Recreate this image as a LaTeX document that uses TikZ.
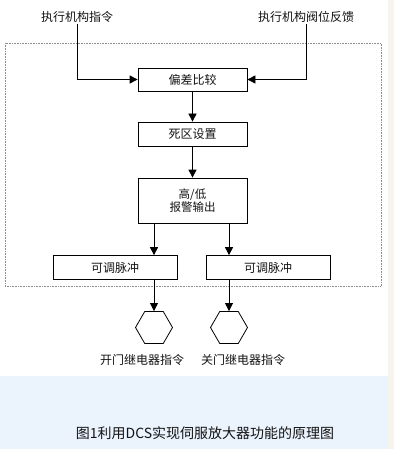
\documentclass[tikz,border=0pt]{standalone}
\usepackage{fontspec}
\setmainfont{Noto Sans CJK SC}
\usepackage{tikz}
\usetikzlibrary{arrows.meta, positioning, calc, shapes.geometric}
\usepackage{xcolor}
\definecolor{framegray}{RGB}{140,140,140}
\definecolor{capblue}{RGB}{235,243,253}
\definecolor{edgebeige}{RGB}{247,244,238}
\definecolor{inkgray}{RGB}{20,20,20}

\begin{document}
\begin{tikzpicture}[x=1pt, y=-1pt,
  box/.style={draw, line width=0.7pt, minimum width=109pt, minimum height=23pt, inner sep=0pt, font=\fontsize{12}{13}\selectfont, text=inkgray},
  pulsebox/.style={box, minimum width=124pt, minimum height=24pt},
  hexnode/.style={draw, line width=0.8pt, regular polygon, regular polygon sides=6, minimum size=37pt, inner sep=0pt},
  lbl/.style={font=\fontsize{12}{13}\selectfont, text=inkgray, inner sep=1pt},
  arr/.style={-{Triangle[length=8pt, width=8pt]}, line width=0.7pt}
]
  % page and caption band
  \fill[white] (0,0) rectangle (394,449);
  \fill[capblue] (0,376) rectangle (388,449);
  \fill[edgebeige] (388,0) rectangle (394,449);
  \useasboundingbox (0,0) rectangle (394,449);

  % inputs
  \node[lbl] (cmd) at (77,17) {执行机构指令};
  \node[lbl] (fb) at (306,17) {执行机构阀位反馈};

  % dotted frame
  \draw[framegray, densely dotted, line width=0.6pt] (5,43) rectangle (381,286);

  % blocks
  \node[box] (cmp) at (192.5,79.5) {偏差比较};
  \node[box, minimum height=24pt] (dz) at (192.5,134) {死区设置};
  \node[box, minimum height=45pt, align=center, font=\fontsize{11.5}{13.5}\selectfont] (alm) at (192.5,200.5) {高/低\\报警输出};
  \node[pulsebox] (pl) at (115,267.5) {可调脉冲};
  \node[pulsebox] (pr) at (268,267.5) {可调脉冲};
  \node[hexnode] (hl) at (154,327.5) {};
  \node[hexnode] (hr) at (229,327.5) {};
  \node[lbl] (ol) at (142,360) {开门继电器指令};
  \node[lbl] (or) at (243,360) {关门继电器指令};

  % connectors
  \draw[arr] (cmd.south) |- (cmp.west);
  \draw[arr] (fb.south) |- (cmp.east);
  \draw[arr] (cmp) -- (dz);
  \draw[arr] (dz) -- (alm);
  \draw[arr] (hl |- alm.south) -- (hl |- pl.north);
  \draw[arr] (hr |- alm.south) -- (hr |- pr.north);
  \draw[arr] (hl |- pl.south) -- (hl.north);
  \draw[arr] (hr |- pr.south) -- (hr.north);

  % caption
  \node[font=\fontsize{14}{16}\selectfont, text=inkgray] (cap) at (205,433) {图1利用DCS实现伺服放大器功能的原理图};
\end{tikzpicture}
\end{document}
